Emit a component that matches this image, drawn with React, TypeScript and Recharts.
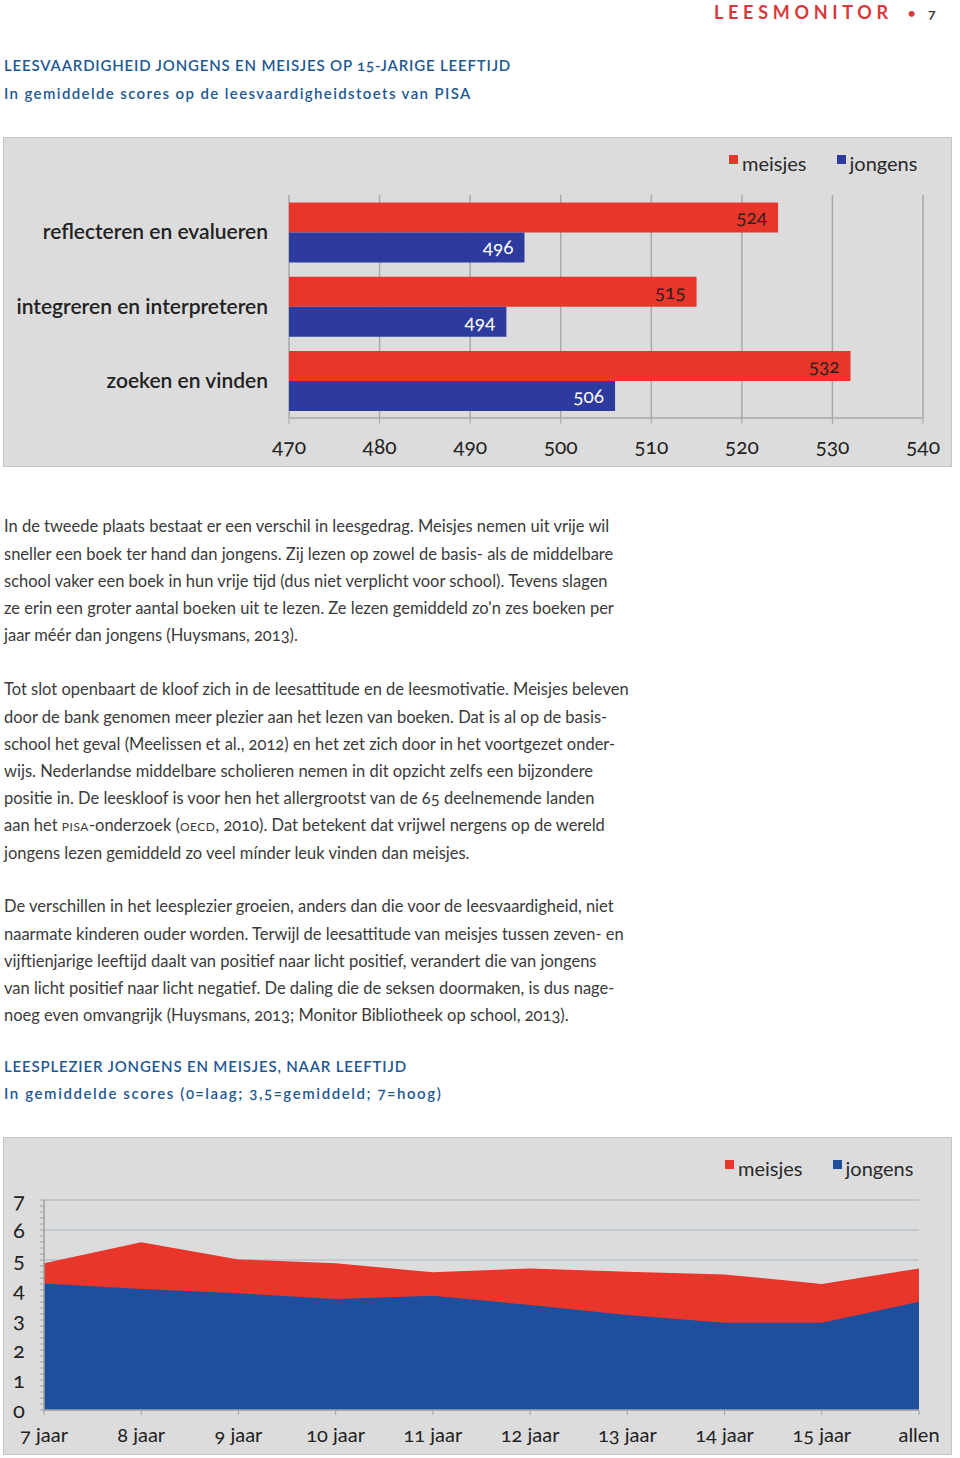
import React from 'react';
import {
  BarChart,
  Bar,
  XAxis,
  YAxis,
  CartesianGrid,
  LabelList,
  AreaChart,
  Area,
  Legend,
} from 'recharts';

// ---------- Chart 1: leesvaardigheid ----------
const skillCategories = ['reflecteren en evalueren', 'integreren en interpreteren', 'zoeken en vinden'];
const skillMeisjes = [524, 515, 532];
const skillJongens = [496, 494, 506];
const skillTicks = [470, 480, 490, 500, 510, 520, 530, 540];

// ---------- Chart 2: leesplezier ----------
const ageCategories = ['7 jaar', '8 jaar', '9 jaar', '10 jaar', '11 jaar', '12 jaar', '13 jaar', '14 jaar', '15 jaar', 'allen'];
const plezierMeisjes = [4.89, 5.59, 5.02, 4.89, 4.59, 4.72, 4.61, 4.52, 4.2, 4.72];
const plezierJongens = [4.22, 4.03, 3.89, 3.7, 3.81, 3.5, 3.17, 2.91, 2.91, 3.61];
const plezierMajorTicks = [0, 1, 2, 3, 4, 5, 6, 7];
const plezierAllTicks = [
  0, 0.2, 0.4, 0.6, 0.8, 1, 1.2, 1.4, 1.6, 1.8, 2, 2.2, 2.4, 2.6, 2.8, 3, 3.2, 3.4, 3.6, 3.8,
  4, 4.2, 4.4, 4.6, 4.8, 5, 5.2, 5.4, 5.6, 5.8, 6, 6.2, 6.4, 6.6, 6.8, 7,
];

const seriesOrder = ['meisjes', 'jongens'];
const seriesColors: Record<string, string> = { meisjes: '#e8362b', jongens: '#2d3b9e' };
const areaColors: Record<string, string> = { meisjes: '#e8362b', jongens: '#1f4e9d' };

const barData = skillCategories.map((c, i) => ({ name: c, meisjes: skillMeisjes[i], jongens: skillJongens[i] }));
const areaData = ageCategories.map((c, i) => ({ age: c, meisjes: plezierMeisjes[i], jongens: plezierJongens[i] }));

const FONT = 'Lato, "Noto Sans", sans-serif';
const BODY = '#3a3a3a';
const TITLE = '#1d5893';

const makeLegend = (colors: Record<string, string>) => (props: any) => {
  const payload = [...(props.payload || [])].sort(
    (a: any, b: any) => seriesOrder.indexOf(a.value) - seriesOrder.indexOf(b.value)
  );
  return (
    <div style={{ display: 'flex', fontFamily: FONT, fontSize: 20, color: '#2a2a2a', lineHeight: '28px', whiteSpace: 'nowrap' }}>
      {payload.map((p: any) => (
        <div key={p.value} style={{ display: 'flex', alignItems: 'center', marginRight: 30 }}>
          <span style={{ display: 'inline-block', width: 9, height: 9, background: colors[p.value], marginRight: 4, marginTop: -8 }} />
          <span>{p.value}</span>
        </div>
      ))}
    </div>
  );
};

const BarXTick = (props: any) => {
  const { x, y, payload } = props;
  return (
    <text x={x} y={y} dy={30} textAnchor="middle" fontSize={21} fill="#222" fontFamily={FONT} style={{ fontVariantNumeric: 'oldstyle-nums' }}>
      {payload.value}
    </text>
  );
};

const BarYTick = (props: any) => {
  const { x, y, payload } = props;
  return (
    <text x={x} y={y} dy={7} textAnchor="end" fontSize={21} fill="#222" fontWeight={600} fontFamily={FONT}>
      {payload.value}
    </text>
  );
};

const AreaXTick = (props: any) => {
  const { x, y, payload } = props;
  return (
    <text x={x} y={y} dy={27} textAnchor="middle" fontSize={20} fill="#222" fontFamily={FONT} style={{ fontVariantNumeric: 'oldstyle-nums' }}>
      {payload.value}
    </text>
  );
};

const AreaYTick = (props: any) => {
  const { x, y, payload } = props;
  if (!plezierMajorTicks.includes(payload.value)) return <g />;
  return (
    <text x={x} y={y} dy={8} textAnchor="end" fontSize={22} fill="#222" fontFamily={FONT} style={{ fontVariantNumeric: 'oldstyle-nums' }}>
      {payload.value}
    </text>
  );
};

const renderBarValue = (color: string) => (props: any) => {
  const { x, y, width, height, value } = props;
  return (
    <text
      x={x + width - 11}
      y={y + height / 2}
      dy={7}
      textAnchor="end"
      fontSize={19}
      fill={color}
      fontFamily={FONT}
      style={{ fontVariantNumeric: 'oldstyle-nums' }}
    >
      {value}
    </text>
  );
};

const line = (top: number, content: React.ReactNode, style: React.CSSProperties = {}) => (
  <div style={{ position: 'absolute', left: 4, top, whiteSpace: 'nowrap', ...style }}>{content}</div>
);

const sc = (t: string) => <span style={{ fontVariant: 'all-small-caps', letterSpacing: 0.5 }}>{t}</span>;

const p1 = [
  'In de tweede plaats bestaat er een verschil in leesgedrag. Meisjes nemen uit vrije wil',
  'sneller een boek ter hand dan jongens. Zij lezen op zowel de basis- als de middelbare',
  'school vaker een boek in hun vrije tijd (dus niet verplicht voor school). Tevens slagen',
  "ze erin een groter aantal boeken uit te lezen. Ze lezen gemiddeld zo'n zes boeken per",
  'jaar méér dan jongens (Huysmans, 2013).',
];
const p2: React.ReactNode[] = [
  'Tot slot openbaart de kloof zich in de leesattitude en de leesmotivatie. Meisjes beleven',
  'door de bank genomen meer plezier aan het lezen van boeken. Dat is al op de basis-',
  'school het geval (Meelissen et al., 2012) en het zet zich door in het voortgezet onder-',
  'wijs. Nederlandse middelbare scholieren nemen in dit opzicht zelfs een bijzondere',
  'positie in. De leeskloof is voor hen het allergrootst van de 65 deelnemende landen',
  <>aan het {sc('PISA')}-onderzoek ({sc('OECD')}, 2010). Dat betekent dat vrijwel nergens op de wereld</>,
  'jongens lezen gemiddeld zo veel mínder leuk vinden dan meisjes.',
];
const p3 = [
  'De verschillen in het leesplezier groeien, anders dan die voor de leesvaardigheid, niet',
  'naarmate kinderen ouder worden. Terwijl de leesattitude van meisjes tussen zeven- en',
  'vijftienjarige leeftijd daalt van positief naar licht positief, verandert die van jongens',
  'van licht positief naar licht negatief. De daling die de seksen doormaken, is dus nage-',
  'noeg even omvangrijk (Huysmans, 2013; Monitor Bibliotheek op school, 2013).',
];

const LH = 27.2;
const bodyStyle: React.CSSProperties = { fontSize: 16.5, color: BODY, lineHeight: `${LH}px`, fontVariantNumeric: 'oldstyle-nums' };
const titleStyle: React.CSSProperties = { fontSize: 15, color: TITLE, lineHeight: '24px', letterSpacing: 0.82, fontWeight: 600, fontVariantNumeric: 'oldstyle-nums' };
const subStyle1: React.CSSProperties = { ...titleStyle, letterSpacing: 1.38 };
const subStyle2: React.CSSProperties = { ...titleStyle, letterSpacing: 1.6 };

export default function App() {
  return (
    <div style={{ position: 'absolute', left: 0, top: 0, width: 960, height: 1458, background: '#fff', fontFamily: FONT, overflow: 'hidden' }}>
      {/* header */}
      <div style={{ position: 'absolute', left: 714, top: 0, fontSize: 18, fontWeight: 700, color: '#d9383a', letterSpacing: 4.7, lineHeight: '24px' }}>LEESMONITOR</div>
      <div style={{ position: 'absolute', left: 907, top: 0, fontSize: 16, color: '#d9383a', lineHeight: '26px' }}>•</div>
      <div style={{ position: 'absolute', left: 928, top: 1, fontSize: 14, fontWeight: 700, color: '#333', lineHeight: '24px', fontVariantNumeric: 'oldstyle-nums' }}>7</div>

      {line(53, 'LEESVAARDIGHEID JONGENS EN MEISJES OP 15-JARIGE LEEFTIJD', titleStyle)}
      {line(81, 'In gemiddelde scores op de leesvaardigheidstoets van PISA', subStyle1)}

      {/* chart 1 */}
      <div style={{ position: 'absolute', left: 3, top: 137, width: 949, height: 330, background: '#dcdcdc', boxShadow: 'inset 0 0 0 1px #c6c6c6' }}>
        <BarChart
          width={949}
          height={330}
          data={barData}
          layout="vertical"
          margin={{ top: 58, right: 29, bottom: 9, left: 0 }}
          barCategoryGap="10%"
          barGap={0}
        >
          <CartesianGrid horizontal={false} vertical stroke="#a9a9a9" strokeWidth={1.5} />
          <XAxis
            type="number"
            domain={[470, 540]}
            ticks={skillTicks}
            interval={0}
            height={40}
            axisLine={{ stroke: '#a9a9a9', strokeWidth: 1.5 }}
            tickLine={{ stroke: '#a9a9a9' }}
            tickSize={6}
            tickMargin={0}
            tick={<BarXTick />}
            allowDataOverflow
          />
          <YAxis type="category" dataKey="name" width={286} axisLine={false} tickLine={false} tickSize={6} tickMargin={15} tick={<BarYTick />} />
          <Legend
            layout="horizontal"
            verticalAlign="middle"
            align="center"
            content={makeLegend(seriesColors)}
            wrapperStyle={{ left: 726, top: 12, width: 'auto' }}
          />
          <Bar dataKey="meisjes" name="meisjes" fill={seriesColors.meisjes} isAnimationActive={false}>
            <LabelList dataKey="meisjes" content={renderBarValue('#2a2020')} />
          </Bar>
          <Bar dataKey="jongens" name="jongens" fill={seriesColors.jongens} isAnimationActive={false}>
            <LabelList dataKey="jongens" content={renderBarValue('#ffffff')} />
          </Bar>
        </BarChart>
      </div>

      {p1.map((t, i) => line(527 - LH / 2 + i * LH, t, bodyStyle))}
      {p2.map((t, i) => line(690 - LH / 2 + i * LH, t, bodyStyle))}
      {p3.map((t, i) => line(907 - LH / 2 + i * LH, t, bodyStyle))}

      {line(1054, 'LEESPLEZIER JONGENS EN MEISJES, NAAR LEEFTIJD', titleStyle)}
      {line(1081, 'In gemiddelde scores (0=laag; 3,5=gemiddeld; 7=hoog)', subStyle2)}

      {/* chart 2 */}
      <div style={{ position: 'absolute', left: 3, top: 1137, width: 949, height: 318, background: '#dcdcdc', boxShadow: 'inset 0 0 0 1px #c6c6c6' }}>
        <AreaChart width={949} height={318} data={areaData} margin={{ top: 63, right: 33, bottom: 5, left: 0 }}>
          <CartesianGrid vertical={false} horizontalValues={plezierMajorTicks} stroke="#b9c3cc" strokeWidth={1.5} />
          <XAxis
            dataKey="age"
            height={40}
            interval={0}
            axisLine={{ stroke: '#a0a0a0', strokeWidth: 1.5 }}
            tickLine={{ stroke: '#a0a0a0' }}
            tickSize={5}
            tickMargin={0}
            tick={<AreaXTick />}
          />
          <YAxis
            type="number"
            domain={[0, 7]}
            ticks={plezierAllTicks}
            interval={0}
            width={41}
            axisLine={{ stroke: '#a0a0a0', strokeWidth: 1.5 }}
            tickLine={{ stroke: '#a0a0a0' }}
            tickSize={4}
            tickMargin={15}
            tick={<AreaYTick />}
          />
          <Legend
            layout="horizontal"
            verticalAlign="middle"
            align="center"
            content={makeLegend(areaColors)}
            wrapperStyle={{ left: 722, top: 17, width: 'auto' }}
          />
          <Area type="linear" dataKey="meisjes" name="meisjes" stroke="none" fill={areaColors.meisjes} fillOpacity={1} isAnimationActive={false} dot={false} activeDot={false} />
          <Area type="linear" dataKey="jongens" name="jongens" stroke="none" fill={areaColors.jongens} fillOpacity={1} isAnimationActive={false} dot={false} activeDot={false} />
        </AreaChart>
      </div>
    </div>
  );
}
